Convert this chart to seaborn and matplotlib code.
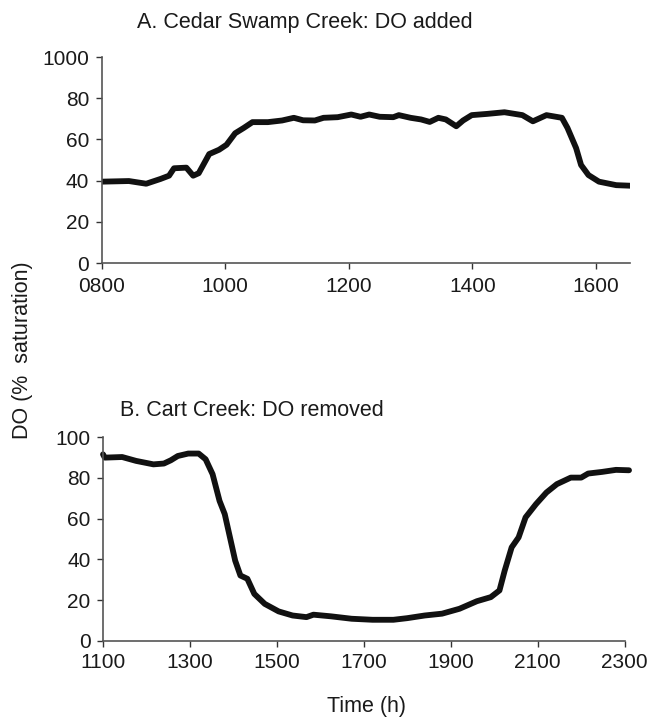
import numpy as np
import pandas as pd
import matplotlib
matplotlib.use("Agg")
import matplotlib.pyplot as plt
import seaborn as sns

# Panel A: Cedar Swamp Creek (DO added)
time_a = [800, 844, 872, 895, 909, 917, 937, 948, 957, 974, 990, 1002, 1016, 1030,
          1044, 1069, 1092, 1111, 1126, 1145, 1159, 1182, 1204, 1219, 1233, 1250,
          1272, 1281, 1300, 1317, 1331, 1345, 1357, 1374, 1385, 1399, 1424, 1452,
          1481, 1498, 1520, 1545, 1554, 1568, 1576, 1588, 1605, 1633, 1658]
do_a = [39.5, 39.8, 38.5, 40.8, 42.4, 46.0, 46.3, 42.4, 43.6, 52.9, 55.0, 57.4, 63.0, 65.6,
        68.4, 68.4, 69.2, 70.5, 69.3, 69.2, 70.5, 70.8, 72.1, 71.0, 72.1, 71.0,
        70.8, 71.8, 70.5, 69.7, 68.5, 70.5, 69.7, 66.4, 69.2, 71.8, 72.4, 73.2,
        71.8, 68.8, 71.8, 70.5, 65.6, 55.8, 47.6, 42.7, 39.5, 37.8, 37.5]

# Panel B: Cart Creek (DO removed)
time_b = [1100, 1104, 1144, 1176, 1216, 1240, 1256, 1272, 1296, 1320, 1336, 1352, 1368,
          1380, 1392, 1404, 1416, 1432, 1448, 1472, 1504, 1536, 1568, 1584, 1624, 1672,
          1720, 1768, 1800, 1840, 1880, 1920, 1960, 1992, 2012, 2024, 2040, 2056, 2072,
          2096, 2120, 2144, 2176, 2200, 2216, 2248, 2280, 2310]
do_b = [91.5, 89.9, 90.2, 88.3, 86.6, 87.0, 88.6, 90.7, 91.9, 91.9, 89.1, 81.8, 68.7,
        62.2, 50.8, 39.4, 32.1, 30.5, 23.1, 18.2, 14.5, 12.5, 11.7, 12.9, 12.1, 10.9,
        10.4, 10.4, 11.2, 12.5, 13.4, 15.8, 19.5, 21.5, 24.8, 34.5, 45.9, 50.8, 60.6,
        67.1, 72.8, 76.9, 80.1, 80.1, 82.1, 82.9, 83.9, 83.7]

xticks_a = [800, 1000, 1200, 1400, 1600]
xticklabels_a = ["0800", "1000", "1200", "1400", "1600"]
xticks_b = [1100, 1300, 1500, 1700, 1900, 2100, 2300]
yticks = [0, 20, 40, 60, 80, 100]
yticklabels_a = ["0", "20", "40", "60", "80", "1000"]
yticklabels_b = ["0", "20", "40", "60", "80", "100"]

title_a = "A. Cedar Swamp Creek: DO added"
title_b = "B. Cart Creek: DO removed"

sns.set_style("ticks")
plt.rcParams["font.family"] = ["Liberation Sans", "DejaVu Sans"]

fig = plt.figure(figsize=(6.48, 7.22), dpi=100)
ax1 = fig.add_axes([0.157, 0.6357, 0.815, 0.2853])
ax2 = fig.add_axes([0.159, 0.1122, 0.805, 0.2825])

line_kw = dict(color="#111111", linewidth=4.2, solid_capstyle="round", solid_joinstyle="round")
df_a = pd.DataFrame({"time": time_a, "do": do_a})
df_b = pd.DataFrame({"time": time_b, "do": do_b})
sns.lineplot(data=df_a, x="time", y="do", ax=ax1, **line_kw)
sns.lineplot(data=df_b, x="time", y="do", ax=ax2, **line_kw)
for l in ax2.lines:
    l.set_clip_on(False)

fs = 15
for ax in (ax1, ax2):
    sns.despine(ax=ax)
    ax.set_ylim(0, 100)
    ax.set_yticks(yticks)
    ax.set_xlabel("")
    ax.set_ylabel("")
    for s in ("left", "bottom"):
        ax.spines[s].set_color("#555555")
        ax.spines[s].set_linewidth(1.2)
    ax.tick_params(direction="out", length=4, width=1.0, color="#333333",
                   labelsize=fs, labelcolor="#1a1a1a", pad=5)
    ax.set_facecolor("white")

ax1.set_xlim(800, 1655)
ax1.set_xticks(xticks_a)
ax1.set_xticklabels(xticklabels_a)
ax1.set_yticklabels(yticklabels_a)
ax1.tick_params(axis="x", pad=6)

ax2.set_xlim(1100, 2300)
ax2.set_xticks(xticks_b)
ax2.set_xticklabels([str(v) for v in xticks_b])
ax2.set_yticklabels(yticklabels_b)
ax2.tick_params(axis="x", pad=5)

fig.text(0.211, 0.969, title_a, fontsize=15.5, color="#1a1a1a", va="center", ha="left")
fig.text(0.185, 0.432, title_b, fontsize=15.5, color="#1a1a1a", va="center", ha="left")
fig.text(0.034, 0.515, "DO (%  saturation)", fontsize=15.5, color="#1a1a1a",
         rotation=90, va="center", ha="center")
fig.text(0.565, 0.022, "Time (h)", fontsize=15.5, color="#1a1a1a", va="center", ha="center")

fig.savefig("out.png", dpi=100, facecolor="white")
